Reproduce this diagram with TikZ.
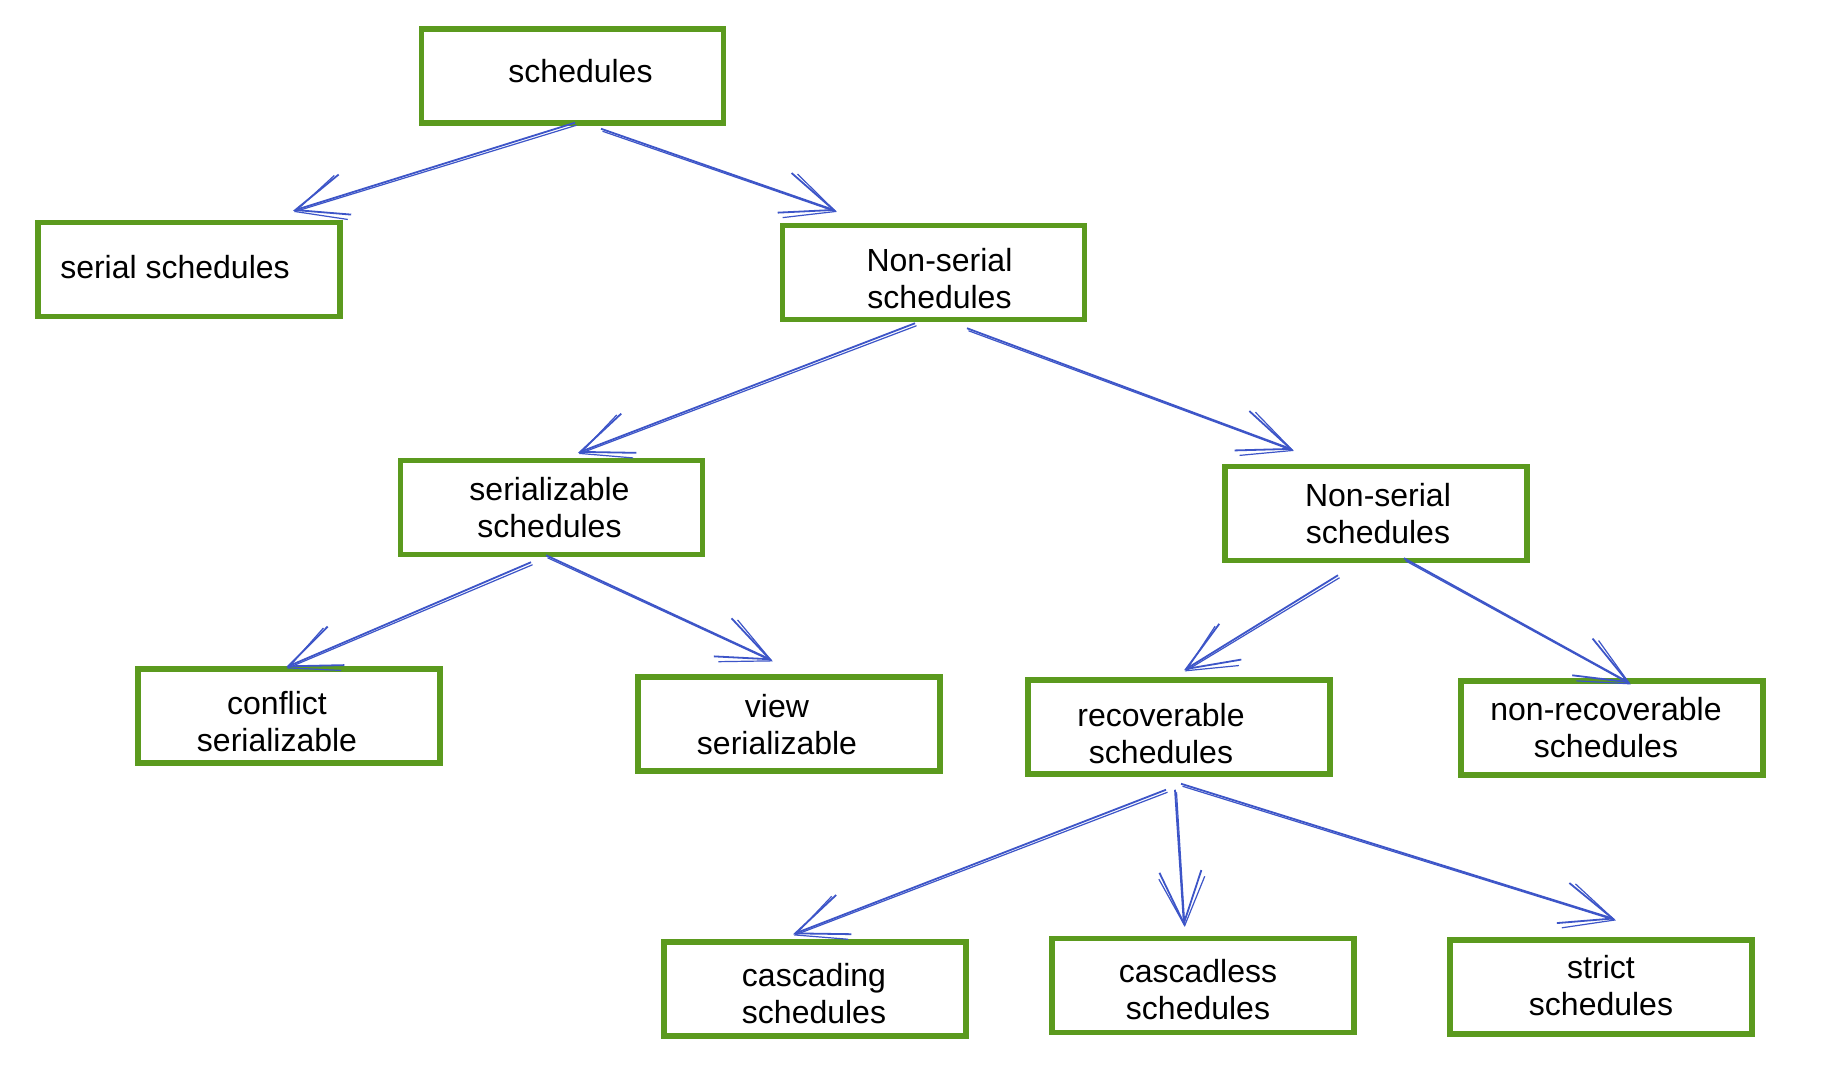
\documentclass[tikz,border=0pt]{standalone}
\usepackage{fontspec}
\setmainfont{Liberation Sans}
\usetikzlibrary{arrows.meta,calc}
\definecolor{boxgreen}{RGB}{91,154,30}
\definecolor{arrblue}{RGB}{61,85,200}
\tikzset{
  box/.style={draw=boxgreen, line width=5.5pt, fill=white, minimum width=302pt, minimum height=94pt, inner sep=0pt},
  txt/.style={align=center, inner sep=0pt, font=\fontsize{32}{37}\selectfont},
  conn/.style={draw=arrblue, line width=1.8pt,
    -{Straight Barb[length=52pt, width=42pt, line width=1.8pt]}},
  conntwo/.style={draw=arrblue, line width=1.2pt,
    -{Straight Barb[length=48pt, width=46pt, line width=1.2pt]}},
}
\newcommand{\sketchconn}[2]{%
  \draw[conn] (#1) -- (#2);
  \draw[conntwo] ($(#1)+(1.5,2.5)$) -- ($(#2)+(0.8,1.2)$);}
\begin{document}
\begin{tikzpicture}[x=1pt, y=-1pt]
\useasboundingbox[fill=white] (0,0) rectangle (1840,1070);
\node[box] (sched) at (572.5,76) {};
\node[box] (serial) at (189,269.5) {};
\node[box] (ns1) at (933.5,272.5) {};
\node[box] (serz) at (551.5,507.5) {};
\node[box] (ns2) at (1376,513.5) {};
\node[box] (conf) at (289,716) {};
\node[box] (view) at (789,724) {};
\node[box] (recov) at (1179,727) {};
\node[box] (nonrec) at (1612,728) {};
\node[box] (casc) at (815,989) {};
\node[box] (cless) at (1203,985.5) {};
\node[box] (strict) at (1601,987) {};

\node[txt] (sched-t) at ($(sched)+(8,-5)$) {schedules};
\node[txt] (serial-t) at ($(serial)+(-14,-2)$) {serial schedules};
\node[txt] (ns1-t) at ($(ns1)+(6,6)$) {Non-serial\\schedules};
\node[txt] (serz-t) at ($(serz)+(-2,0)$) {serializable\\schedules};
\node[txt] (ns2-t) at ($(ns2)+(2,0)$) {Non-serial\\schedules};
\node[txt] (conf-t) at ($(conf)+(-12,6)$) {conflict\\serializable};
\node[txt] (view-t) at ($(view)+(-12,1)$) {view\\serializable};
\node[txt] (recov-t) at ($(recov)+(-18,7)$) {recoverable\\schedules};
\node[txt] (nonrec-t) at ($(nonrec)+(-6,0)$) {non-recoverable\\schedules};
\node[txt] (casc-t) at ($(casc)+(-1,5)$) {cascading\\schedules};
\node[txt] (cless-t) at ($(cless)+(-5,4)$) {cascadless\\schedules};
\node[txt] (strict-t) at ($(strict)+(0,-1)$) {strict\\schedules};

\coordinate (a1s) at ($(sched.south)+(2.5,-3)$);
\coordinate (a1e) at ($(serial.north)+(104,-9)$);
\coordinate (a2s) at ($(sched.south)+(28.5,3)$);
\coordinate (a2e) at ($(ns1.north)+(-97.5,-12)$);
\coordinate (a3s) at ($(ns1.south)+(-18.5,1)$);
\coordinate (a3e) at ($(serz.north)+(26.5,-5)$);
\coordinate (a4s) at ($(ns1.south)+(33.5,6)$);
\coordinate (a4e) at ($(ns2.north)+(-83,-14)$);
\coordinate (a5s) at ($(serz.south)+(-20.5,5)$);
\coordinate (a5e) at ($(conf.north)+(-3,1)$);
\coordinate (a6s) at ($(serz.south)+(-5.5,-2)$);
\coordinate (a6e) at ($(view.north)+(-17,-14)$);
\coordinate (a7s) at ($(ns2.south)+(-38,12)$);
\coordinate (a7e) at ($(recov.north)+(5,-7)$);
\coordinate (a8s) at ($(ns2.south)+(28,-5)$);
\coordinate (a8e) at ($(nonrec.north)+(18,5)$);
\coordinate (a9s) at ($(recov.south)+(-13,13)$);
\coordinate (a9e) at ($(casc.north)+(-22,-5)$);
\coordinate (a10s) at ($(recov.south)+(-4,13)$);
\coordinate (a10e) at ($(cless.north)+(-19,-10)$);
\coordinate (a11s) at ($(recov.south)+(2,7)$);
\coordinate (a11e) at ($(strict.north)+(14,-18)$);

\sketchconn{a1s}{a1e}
\sketchconn{a2s}{a2e}
\sketchconn{a3s}{a3e}
\sketchconn{a4s}{a4e}
\sketchconn{a5s}{a5e}
\sketchconn{a6s}{a6e}
\sketchconn{a7s}{a7e}
\sketchconn{a8s}{a8e}
\sketchconn{a9s}{a9e}
\sketchconn{a10s}{a10e}
\sketchconn{a11s}{a11e}
\end{tikzpicture}
\end{document}
